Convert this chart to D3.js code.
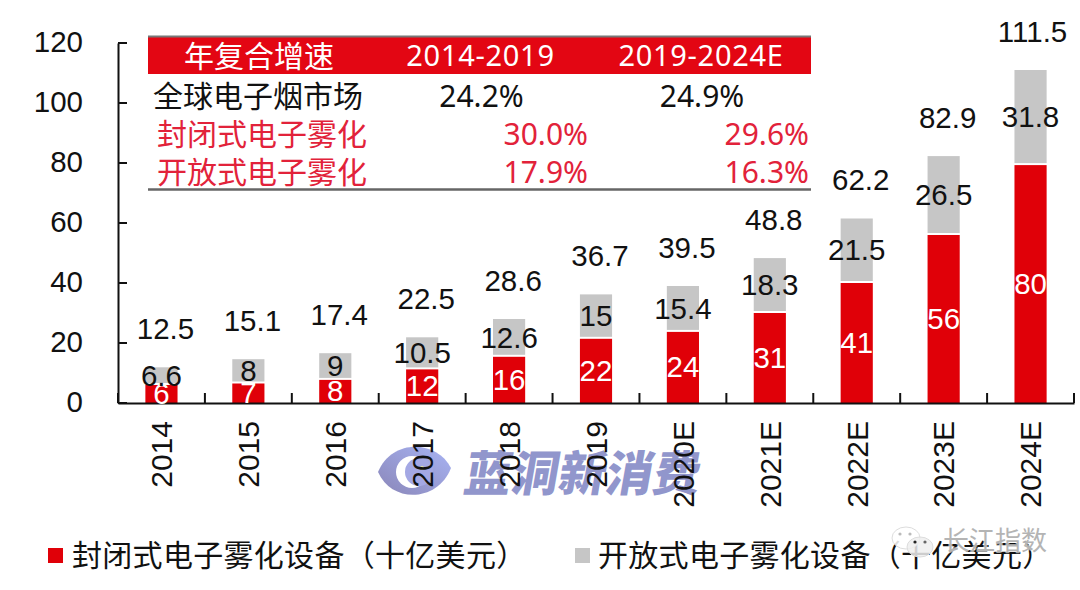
<!DOCTYPE html>
<html><head><meta charset="utf-8">
<script src="https://cdnjs.cloudflare.com/ajax/libs/d3/7.8.5/d3.min.js"></script>
<style>html,body{margin:0;padding:0;background:#fff}svg{display:block}
text{font-family:"Liberation Sans","Noto Sans CJK SC",sans-serif}
.cjk{font-family:"Noto Sans CJK SC",sans-serif}
.tnum{font-family:"Noto Sans",sans-serif}</style></head><body>
<svg id="c" width="1080" height="590"></svg>
<script>
const categories=["2014","2015","2016","2017","2018","2019","2020E","2021E","2022E","2023E","2024E"];
// bar lengths
const closedBars=[6,6.5,7.7,11.2,15.4,21.4,23.7,30,40,56,79.3];
const stackTops=[11.9,14.6,16.6,21.9,28,36.2,39,48.3,61.5,82.3,111];
// printed labels
const closedLabels=[6,7,8,12,16,22,24,31,41,56,80];
const openLabels=[6.6,8,9,10.5,12.6,15,15.4,18.3,21.5,26.5,31.8];
const totalLabels=[12.5,15.1,17.4,22.5,28.6,36.7,39.5,48.8,62.2,82.9,111.5];
const yTicks=[0,20,40,60,80,100,120];
const legendLabels=["封闭式电子雾化设备（十亿美元）","开放式电子雾化设备（十亿美元）"];
const tableHeader=["年复合增速","2014-2019","2019-2024E"];
const tableNames=["全球电子烟市场","封闭式电子雾化","开放式电子雾化"];
const cagr1=["24.2%","30.0%","17.9%"];
const cagr2=["24.9%","29.6%","16.3%"];
const RED="#e00008",BAND="#e30613",TRED="#e2223a",GREY="#c6c6c6",INK="#111";
const NUM=29.5;
const svg=d3.select("#c");
const x=d3.scaleBand().domain(categories).range([118,1074]).paddingInner(0.63).paddingOuter(0.315);
const y=d3.scaleLinear().domain([0,120]).range([403,43]);
const cx=d=>x(d)+x.bandwidth()/2;

// watermark (behind tick labels)
const defs=svg.append("defs");
const gr=defs.append("linearGradient").attr("id","eye").attr("x1","0").attr("x2","1").attr("y1","1").attr("y2","0");
gr.append("stop").attr("offset","0").attr("stop-color","#8a86b8");
gr.append("stop").attr("offset","1").attr("stop-color","#a8b4f4");
const wm=svg.append("g");
wm.append("path").attr("d","M378,472 C392,438 437,440 451,468 C438,502 392,504 378,472 Z").attr("fill","url(#eye)");
wm.append("circle").attr("cx",412).attr("cy",472).attr("r",16).attr("fill","#fff");
wm.append("circle").attr("cx",419).attr("cy",472).attr("r",14).attr("fill","#a4a8e4");
wm.append("circle").attr("cx",422).attr("cy",468).attr("r",2).attr("fill","#e8e89a");
wm.append("text").attr("class","cjk").attr("transform","translate(462,491) skewX(-10)")
  .attr("font-size",48).attr("font-weight",900)
  .attr("textLength",236).attr("lengthAdjust","spacingAndGlyphs")
  .attr("fill","#9196cc").text("蓝洞新消费");

// stacked bars
const bars=svg.append("g");
bars.selectAll(".closed").data(categories).join("rect").attr("class","closed")
  .attr("x",d=>x(d)).attr("width",x.bandwidth())
  .attr("y",(d,i)=>y(closedBars[i])).attr("height",(d,i)=>y(0)-y(closedBars[i])).attr("fill",RED);
bars.selectAll(".open").data(categories).join("rect").attr("class","open")
  .attr("x",d=>x(d)).attr("width",x.bandwidth())
  .attr("y",(d,i)=>y(stackTops[i])).attr("height",(d,i)=>y(closedBars[i])-y(stackTops[i])-2).attr("fill",GREY);

// axes
const ax=svg.append("g").attr("transform","translate(0,403)")
  .call(d3.axisBottom(x).tickSize(0).tickFormat(""));
ax.select(".domain").attr("stroke",INK).attr("stroke-width",2);
const boundaries=d3.range(categories.length+1).map(i=>x.range()[0]+i*x.step());
svg.append("g").selectAll("line").data(boundaries).join("line")
  .attr("x1",d=>d).attr("x2",d=>d).attr("y1",393).attr("y2",403).attr("stroke",INK).attr("stroke-width",2);
const ay=svg.append("g").attr("transform","translate(118,0)")
  .call(d3.axisLeft(y).tickValues(yTicks).tickSize(0).tickPadding(35));
ay.selectAll(".tick text").attr("font-size",NUM).attr("fill",INK).attr("dy","0.28em");
ay.select(".domain").attr("stroke",INK).attr("stroke-width",2);
svg.append("g").selectAll("line").data(yTicks).join("line")
  .attr("x1",118).attr("x2",127).attr("y1",d=>y(d)).attr("y2",d=>y(d)).attr("stroke",INK).attr("stroke-width",2);

// category labels
svg.append("g").selectAll("text").data(categories).join("text")
  .attr("transform",d=>`translate(${cx(d)},421) rotate(-90)`)
  .attr("text-anchor","end").attr("dy","0.36em").attr("font-size",30).attr("fill",INK).text(d=>d);

// value labels
const lbl=svg.append("g").attr("font-size",NUM).attr("text-anchor","middle");
lbl.selectAll(".vc").data(categories).join("text").attr("class","vc")
  .attr("x",cx).attr("y",(d,i)=>y(closedBars[i]/2)).attr("dy","0.33em")
  .attr("fill","#fff").text((d,i)=>closedLabels[i]);
lbl.selectAll(".vo").data(categories).join("text").attr("class","vo")
  .attr("x",cx).attr("y",(d,i)=>y((closedBars[i]+stackTops[i])/2)).attr("dy","0.33em")
  .attr("fill",INK).text((d,i)=>openLabels[i]);
lbl.selectAll(".vt").data(categories).join("text").attr("class","vt")
  .attr("x",(d,i)=>cx(d)+(i===categories.length-1?2:4)).attr("y",(d,i)=>y(stackTops[i])-37).attr("dy","0.3em")
  .attr("fill",INK).text((d,i)=>totalLabels[i]);

// CAGR table
const t=svg.append("g");
t.append("rect").attr("x",148).attr("y",37).attr("width",663).attr("height",37).attr("fill",BAND);
t.append("line").attr("x1",148).attr("x2",811).attr("y1",36.5).attr("y2",36.5).attr("stroke","#777").attr("stroke-width",2);
t.append("line").attr("x1",148).attr("x2",811).attr("y1",189.5).attr("y2",189.5).attr("stroke","#666").attr("stroke-width",2.5);
t.append("text").attr("class","cjk").attr("x",259).attr("y",56).attr("dy","0.36em").attr("text-anchor","middle")
  .attr("font-size",30).attr("fill","#fff").text(tableHeader[0]);
[480.5,701].forEach((c,i)=>t.append("text").attr("class","tnum").attr("x",c).attr("y",56).attr("dy","0.36em").attr("text-anchor","middle")
  .attr("font-size",29).attr("letter-spacing",0.7).attr("fill","#fff").text(tableHeader[i+1]));
const rowY=[96.5,134,172], rowX=[153,157,157];
tableNames.forEach((n,i)=>{
  const col=i===0?INK:TRED;
  t.append("text").attr("class","cjk").attr("x",rowX[i]).attr("y",rowY[i]).attr("dy","0.36em")
    .attr("font-size",30).attr("fill",col).text(n);
  t.append("text").attr("class","tnum").attr("x",i===0?481.5:588).attr("y",rowY[i]).attr("dy","0.36em")
    .attr("text-anchor",i===0?"middle":"end").attr("font-size",30).attr("fill",col).text(cagr1[i]);
  t.append("text").attr("class","tnum").attr("x",i===0?702:809).attr("y",rowY[i]).attr("dy","0.36em")
    .attr("text-anchor",i===0?"middle":"end").attr("font-size",30).attr("fill",col).text(cagr2[i]);
});

// legend
const lg=svg.append("g");
[[48,RED,72],[575,GREY,598]].forEach((p,i)=>{
  lg.append("rect").attr("x",p[0]).attr("y",548).attr("width",15).attr("height",15).attr("fill",p[1]);
  lg.append("text").attr("class","cjk").attr("x",p[2]).attr("y",555).attr("dy","0.36em")
    .attr("font-size",30).attr("letter-spacing",0.3).attr("fill",INK).text(legendLabels[i]);
});

// WeChat watermark
const wx=svg.append("g");
wx.append("ellipse").attr("cx",906).attr("cy",538).attr("rx",14).attr("ry",11).attr("fill","#fff").attr("fill-opacity",.85).attr("stroke","#ddd");
wx.append("ellipse").attr("cx",920).attr("cy",547).attr("rx",13).attr("ry",10).attr("fill","#eee").attr("fill-opacity",.85).attr("stroke","#ddd");
[[900,534,"#bbb"],[910,534,"#bbb"],[915,542,"#222"],[925,542,"#666"]].forEach(p=>
  wx.append("circle").attr("cx",p[0]).attr("cy",p[1]).attr("r",1.6).attr("fill",p[2]));
wx.append("text").attr("class","cjk").attr("x",943).attr("y",541).attr("dy","0.36em").attr("font-size",26)
  .attr("fill","#b4b4b4").attr("stroke","#fff").attr("stroke-opacity",.6).attr("stroke-width",2).attr("paint-order","stroke").text("长江指数");
</script></body></html>
